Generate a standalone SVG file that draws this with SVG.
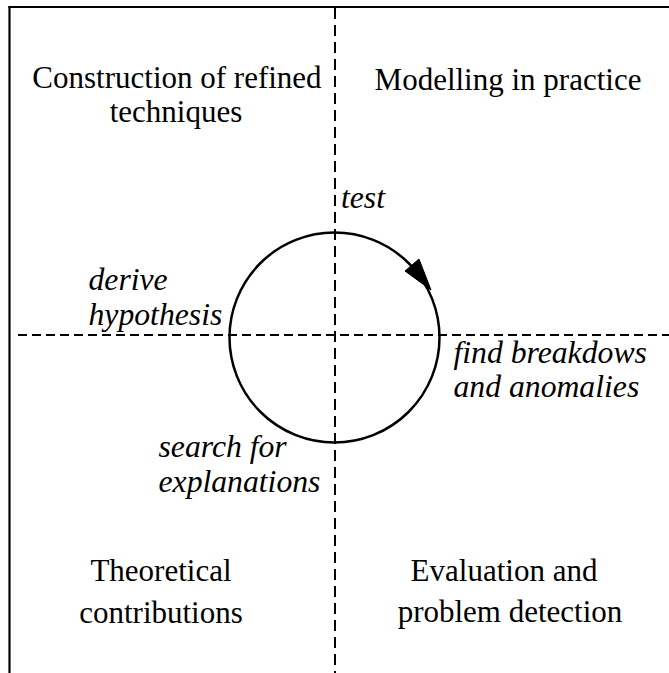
<svg xmlns="http://www.w3.org/2000/svg" width="669" height="673" viewBox="0 0 669 673">
<style>
.frame{stroke:#000;stroke-width:2.2;fill:none}
.axis{stroke:#000;stroke-width:2;fill:none}
.axh{stroke-dasharray:9 5}
.axv{stroke-dasharray:11 6}
text{font-family:'Liberation Serif','Times New Roman',serif;font-size:31px;fill:#000}
.c{text-anchor:middle}
.it{font-style:italic;font-size:31.7px}
.cyc{stroke:#000;stroke-width:2.5;fill:none}
</style>
<rect width="669" height="673" fill="#fff"/>
<g id="frame">
<line class="frame" x1="8.5" y1="7" x2="669" y2="7"/>
<line class="frame" x1="9.5" y1="6" x2="9.5" y2="673"/>
</g>
<g id="axes">
<line class="axis axv" x1="335" y1="8" x2="335" y2="673"/>
<line class="axis axh" x1="18" y1="335" x2="669" y2="335"/>
</g>
<g id="connectors">
<circle class="cyc" cx="334.5" cy="337.5" r="105"/>
<polygon points="405,271 419,259 431,290" fill="#000" stroke="#000" stroke-width="1" stroke-linejoin="miter"/>
</g>
<g id="q-construction"><text class="c" x="177" y="88">Construction of refined</text><text class="c" x="176" y="122">techniques</text></g>
<g id="q-modelling"><text class="c" x="508" y="90">Modelling in practice</text></g>
<g id="q-theoretical"><text class="c" x="161" y="581">Theoretical</text><text class="c" x="161" y="623">contributions</text></g>
<g id="q-evaluation"><text class="c" x="504" y="581">Evaluation and</text><text class="c" x="510" y="622">problem detection</text></g>
<g id="step-test"><text class="it" x="341" y="208">test</text></g>
<g id="step-derive"><text class="it" x="88.5" y="290">derive</text><text class="it" x="88.5" y="325">hypothesis</text></g>
<g id="step-find"><text class="it" x="453.5" y="363">find breakdows</text><text class="it" x="453.5" y="397">and anomalies</text></g>
<g id="step-search"><text class="it" x="158.5" y="457">search for</text><text class="it" x="158.5" y="492">explanations</text></g>
</svg>
